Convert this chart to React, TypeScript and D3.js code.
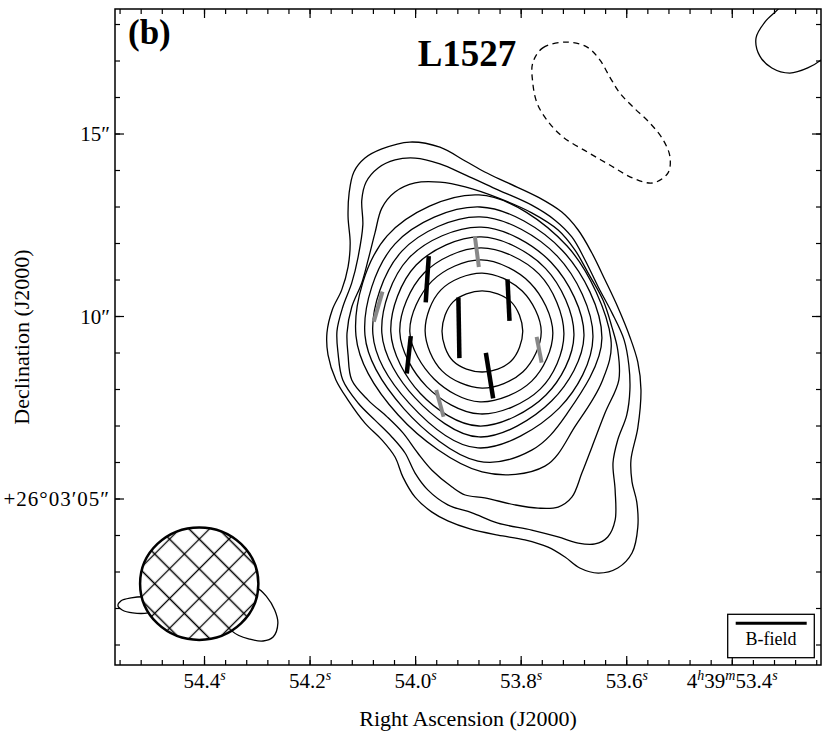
import React from "react";
import * as d3 from "d3";

const WIDTH = 831;
const HEIGHT = 742;
const PLOT = { x0: 115, x1: 821, y0: 9, y1: 665 };
const FONT = "'Liberation Serif', 'DejaVu Serif', serif";

// Axis domains: RA seconds of 4h39m, Dec arcsec past +26°03′00″
const raRange = [54.5696, 53.2319];
const decRange = [0.452, 18.425];

const raMajor = [54.4, 54.2, 54.0, 53.8, 53.6, 53.4];
const raMajorText = ["54.4", "54.2", "54.0", "53.8", "53.6", "53.4"];
const decMajor = [5, 10, 15];
const decMajorText = ["+26°03′05″", "10″", "15″"];

// Stokes I contours, outer (level 1) to inner (level 12): [RA s, Dec ″]
const level1: [number, number][] = [
  [54.168, 9.55], [54.158, 10.18], [54.14, 10.73], [54.128, 11.36], [54.124, 12.01], [54.128, 12.73],
  [54.126, 13.38], [54.117, 13.96], [54.096, 14.34], [54.064, 14.59], [54.011, 14.78], [53.954, 14.64],
  [53.906, 14.26], [53.869, 13.96], [53.825, 13.66], [53.768, 13.27], [53.723, 12.86], [53.692, 12.37],
  [53.666, 11.74], [53.641, 11.0], [53.617, 10.26], [53.594, 9.44], [53.579, 8.75], [53.573, 7.99],
  [53.579, 6.95], [53.592, 6.07], [53.59, 5.47], [53.581, 4.92], [53.579, 4.23], [53.59, 3.52],
  [53.617, 3.11], [53.654, 2.97], [53.689, 3.11], [53.717, 3.41], [53.749, 3.68], [53.793, 3.88],
  [53.844, 4.01], [53.897, 4.18], [53.939, 4.4], [53.969, 4.64], [54.001, 5.05], [54.024, 5.6],
  [54.039, 6.15], [54.064, 6.62], [54.096, 7.08], [54.128, 7.71], [54.151, 8.26], [54.166, 8.95],
];
const level2: [number, number][] = [
  [54.149, 9.6], [54.138, 10.26], [54.121, 10.92], [54.109, 11.63], [54.1, 12.51], [54.102, 13.19],
  [54.094, 13.68], [54.071, 14.07], [54.039, 14.29], [54.001, 14.34], [53.954, 14.18], [53.906, 13.88],
  [53.844, 13.47], [53.78, 13.05], [53.736, 12.64], [53.704, 12.18], [53.679, 11.55], [53.654, 10.81],
  [53.628, 10.1], [53.605, 9.36], [53.596, 8.67], [53.594, 7.99], [53.6, 7.3], [53.617, 6.62],
  [53.626, 5.99], [53.622, 5.25], [53.622, 4.42], [53.636, 3.96], [53.66, 3.77], [53.692, 3.79],
  [53.73, 3.96], [53.78, 4.15], [53.844, 4.34], [53.893, 4.62], [53.939, 4.84], [53.977, 5.25],
  [54.001, 5.71], [54.02, 6.26], [54.045, 6.7], [54.077, 7.16], [54.109, 7.63], [54.138, 8.26],
  [54.147, 9.0],
];
const level3: [number, number][] = [
  [54.13, 9.55], [54.121, 10.26], [54.102, 10.92], [54.09, 11.55], [54.077, 12.29], [54.064, 12.97],
  [54.039, 13.41], [54.001, 13.66], [53.954, 13.68], [53.906, 13.55], [53.844, 13.25], [53.78, 12.84],
  [53.73, 12.37], [53.698, 11.82], [53.673, 11.19], [53.645, 10.45], [53.628, 9.71], [53.617, 9.08],
  [53.615, 8.26], [53.641, 7.36], [53.666, 6.42], [53.685, 5.71], [53.704, 5.05], [53.73, 4.78],
  [53.768, 4.75], [53.812, 4.84], [53.869, 5.03], [53.906, 5.11], [53.931, 5.33], [53.969, 5.79],
  [53.996, 6.26], [54.024, 6.81], [54.054, 7.25], [54.09, 7.71], [54.121, 8.26], [54.128, 8.95],
];
const level4: [number, number][] = [
  [54.113, 9.47], [54.054, 12.21], [53.88, 13.33], [53.713, 11.93], [53.63, 9.38], [53.647, 8.21],
  [53.696, 7.03], [53.755, 5.9], [53.874, 5.74], [54.033, 7.3],
];
const level5: [number, number][] = [
  [54.096, 9.49], [54.039, 11.99], [53.878, 13.0], [53.722, 11.81], [53.647, 9.41], [53.715, 7.3],
  [53.78, 6.34], [53.882, 6.04], [54.022, 7.47],
];
const level6: [number, number][] = [
  [54.081, 9.52], [54.026, 11.79], [53.878, 12.73], [53.732, 11.66], [53.664, 9.44], [53.728, 7.49],
  [53.882, 6.4], [54.012, 7.62],
];
const level7: [number, number][] = [
  [54.064, 9.55], [54.013, 11.6], [53.876, 12.45], [53.743, 11.48], [53.681, 9.47], [53.742, 7.69],
  [53.88, 6.7], [54.001, 7.77],
];
const level8: [number, number][] = [
  [54.047, 9.58], [53.999, 11.41], [53.876, 12.18], [53.754, 11.32], [53.7, 9.49], [53.753, 7.85],
  [53.88, 7.0], [53.991, 7.89],
];
const level9: [number, number][] = [
  [54.03, 9.58], [53.984, 11.19], [53.876, 11.88], [53.766, 11.16], [53.719, 9.52], [53.764, 8.01],
  [53.878, 7.33], [53.979, 8.08],
];
const level10: [number, number][] = [
  [54.011, 9.58], [53.969, 10.97], [53.876, 11.55], [53.783, 10.92], [53.74, 9.55], [53.78, 8.23],
  [53.878, 7.66], [53.965, 8.29],
];
const level11: [number, number][] = [
  [53.982, 9.6], [53.952, 10.73], [53.874, 11.19], [53.798, 10.7], [53.762, 9.58], [53.797, 8.48],
  [53.874, 8.04], [53.95, 8.51],
];
const level12: [number, number][] = [
  [53.95, 9.6], [53.929, 10.4], [53.874, 10.7], [53.819, 10.4], [53.797, 9.6], [53.819, 8.78],
  [53.874, 8.48], [53.929, 8.78],
];
// isolated outer-level islands
const islandNE: [number, number][] = [
  [53.291, 18.81], [53.313, 18.42], [53.338, 18.07], [53.355, 17.63], [53.348, 17.14], [53.325, 16.81],
  [53.291, 16.67], [53.257, 16.81], [53.23, 17.05], [53.205, 17.44], [53.196, 18.12], [53.234, 18.81],
];
const islandSW1: [number, number][] = [
  [54.484, 2.23], [54.513, 2.32], [54.539, 2.29], [54.558, 2.21], [54.564, 2.07], [54.556, 1.96],
  [54.536, 1.88], [54.507, 1.88], [54.484, 2.01],
];
const islandSW2: [number, number][] = [
  [54.333, 2.51], [54.301, 2.56], [54.282, 2.32], [54.267, 1.96], [54.261, 1.6], [54.27, 1.22],
  [54.289, 1.11], [54.314, 1.16], [54.346, 1.36], [54.361, 1.82],
];
// negative contour (dashed)
const negative1: [number, number][] = [
  [53.778, 16.95], [53.759, 17.36], [53.713, 17.52], [53.675, 17.38], [53.651, 17.03], [53.632, 16.56],
  [53.613, 16.12], [53.588, 15.74], [53.556, 15.3], [53.531, 14.84], [53.518, 14.37], [53.522, 13.93],
  [53.55, 13.66], [53.588, 13.79], [53.632, 14.15], [53.675, 14.51], [53.721, 14.92], [53.751, 15.38],
  [53.77, 15.85], [53.778, 16.4],
];
const solidContours = [
  level1, level2, level3, level4, level5, level6, level7, level8, level9, level10, level11, level12,
  islandNE, islandSW1, islandSW2,
];

// B-field segments
const vecRA = [53.978, 53.918, 53.824, 54.013, 53.86, 53.884, 54.071, 53.766, 53.954];
const vecDec = [11.02, 9.69, 10.45, 8.95, 8.38, 11.78, 10.27, 9.09, 7.62];
const vecPA = [-3.5, 0.9, 2.6, -5.7, 8.5, 6.9, -15.1, 10.2, 14.3];
const vecLen = [1.27, 1.66, 1.14, 1.03, 1.26, 0.85, 0.85, 0.72, 0.76];
const vecStrong = [true, true, true, true, true, false, false, false, false];

// synthesized beam
const beamRA = 54.41;
const beamDec = 2.68;
const beamMajor = 3.08;
const beamMinor = 3.02;

const ARCSEC_PER_RA_S = 15 * Math.cos((26.05 * Math.PI) / 180);

export default function App() {
  const x = d3.scaleLinear().domain(raRange).range([PLOT.x0, PLOT.x1]);
  const y = d3.scaleLinear().domain(decRange).range([PLOT.y1, PLOT.y0]);
  const line = d3
    .line<[number, number]>()
    .x((d) => x(d[0]))
    .y((d) => y(d[1]))
    .curve(d3.curveCatmullRomClosed.alpha(0.5));

  const raMinor = d3.range(0, 34).map((i) => +(54.56 - 0.04 * i).toFixed(2));
  const decMinor = d3.range(1, 19);

  const bx = x(beamRA);
  const by = y(beamDec);
  const brx = Math.abs(x(beamRA + beamMinor / 2 / ARCSEC_PER_RA_S) - bx);
  const bry = Math.abs(y(beamDec + beamMajor / 2) - by);

  const vectors = vecRA.map((ra, i) => {
    const pa = (vecPA[i] * Math.PI) / 180;
    const h = vecLen[i] / 2;
    const dRA = (h * Math.sin(pa)) / ARCSEC_PER_RA_S;
    const dDec = h * Math.cos(pa);
    return {
      x1: x(ra + dRA),
      y1: y(vecDec[i] + dDec),
      x2: x(ra - dRA),
      y2: y(vecDec[i] - dDec),
      strong: vecStrong[i],
    };
  });

  const sup = { fontSize: 14, fontStyle: "italic" as const };

  return (
    <svg
      width={WIDTH}
      height={HEIGHT}
      viewBox={`0 0 ${WIDTH} ${HEIGHT}`}
      style={{ position: "absolute", left: 0, top: 0, background: "#fff" }}
      fontFamily={FONT}
    >
      <defs>
        <clipPath id="plotClip">
          <rect x={PLOT.x0} y={PLOT.y0} width={PLOT.x1 - PLOT.x0} height={PLOT.y1 - PLOT.y0} />
        </clipPath>
        <pattern
          id="hatch"
          patternUnits="userSpaceOnUse"
          width={21}
          height={21}
          patternTransform={`translate(${bx},${by}) rotate(45)`}
        >
          <path d="M0 10.5H21M10.5 0V21" stroke="#000" strokeWidth={1.3} fill="none" />
        </pattern>
      </defs>
      <rect x={0} y={0} width={WIDTH} height={HEIGHT} fill="#fff" />

      <g clipPath="url(#plotClip)">
        {solidContours.map((c, i) => (
          <path key={"c" + i} d={line(c) || ""} fill="none" stroke="#000" strokeWidth={1.3} />
        ))}
        <path d={line(negative1) || ""} fill="none" stroke="#000" strokeWidth={1.3} strokeDasharray="6 4.5" />

        {vectors.map((v, i) => (
          <line
            key={"v" + i}
            x1={v.x1}
            y1={v.y1}
            x2={v.x2}
            y2={v.y2}
            stroke={v.strong ? "#000" : "#888"}
            strokeWidth={v.strong ? 4.5 : 4}
          />
        ))}

        <ellipse cx={bx} cy={by} rx={brx} ry={bry} fill="#fff" />
        <ellipse cx={bx} cy={by} rx={brx} ry={bry} fill="url(#hatch)" stroke="#000" strokeWidth={2.5} />
      </g>

      {/* frame */}
      <rect
        x={PLOT.x0}
        y={PLOT.y0}
        width={PLOT.x1 - PLOT.x0}
        height={PLOT.y1 - PLOT.y0}
        fill="none"
        stroke="#000"
        strokeWidth={1.5}
      />

      {/* ticks */}
      <g stroke="#000" strokeWidth={1.2}>
        {raMinor.map((t) => (
          <g key={"rm" + t}>
            <line x1={x(t)} x2={x(t)} y1={PLOT.y1} y2={PLOT.y1 - 5} />
            <line x1={x(t)} x2={x(t)} y1={PLOT.y0} y2={PLOT.y0 + 5} />
          </g>
        ))}
        {raMajor.map((t) => (
          <g key={"rM" + t}>
            <line x1={x(t)} x2={x(t)} y1={PLOT.y1} y2={PLOT.y1 - 9} />
            <line x1={x(t)} x2={x(t)} y1={PLOT.y0} y2={PLOT.y0 + 9} />
          </g>
        ))}
        {decMinor.map((t) => (
          <g key={"dm" + t}>
            <line x1={PLOT.x0} x2={PLOT.x0 + 5} y1={y(t)} y2={y(t)} />
            <line x1={PLOT.x1} x2={PLOT.x1 - 5} y1={y(t)} y2={y(t)} />
          </g>
        ))}
        {decMajor.map((t) => (
          <g key={"dM" + t}>
            <line x1={PLOT.x0} x2={PLOT.x0 + 9} y1={y(t)} y2={y(t)} />
            <line x1={PLOT.x1} x2={PLOT.x1 - 9} y1={y(t)} y2={y(t)} />
          </g>
        ))}
      </g>

      {/* RA tick labels */}
      <g fontSize={21} textAnchor="middle" fill="#000">
        {raMajor.map((t, i) =>
          i === raMajor.length - 1 ? (
            <text key={"rl" + t} x={x(t)} y={688}>
              4<tspan {...sup} dy={-8}>h</tspan>
              <tspan dy={8}>39</tspan>
              <tspan {...sup} dy={-8}>m</tspan>
              <tspan dy={8}>{raMajorText[i]}</tspan>
              <tspan {...sup} dy={-8}>s</tspan>
            </text>
          ) : (
            <text key={"rl" + t} x={x(t)} y={688}>
              {raMajorText[i]}
              <tspan {...sup} dy={-8}>s</tspan>
            </text>
          )
        )}
      </g>

      {/* Dec tick labels */}
      <g fontSize={21} textAnchor="end" fill="#000">
        {decMajor.map((t, i) => (
          <text key={"dl" + t} x={110} y={y(t) + 7} letterSpacing={i === 0 ? 1 : 0}>
            {decMajorText[i]}
          </text>
        ))}
      </g>

      {/* axis titles */}
      <text x={468} y={726} fontSize={22} textAnchor="middle">
        Right Ascension (J2000)
      </text>
      <text transform={`translate(29,337) rotate(-90)`} fontSize={22} textAnchor="middle">
        Declination (J2000)
      </text>

      {/* panel label and title */}
      <text x={128} y={44} fontSize={35} fontWeight="bold">
        (b)
      </text>
      <text x={467} y={66} fontSize={37} fontWeight="bold" textAnchor="middle">
        L1527
      </text>

      {/* legend */}
      <rect x={727.7} y={614.3} width={86.6} height={43.4} fill="#fff" stroke="#000" strokeWidth={1.3} />
      <line x1={735.7} x2={806.7} y1={623.3} y2={623.3} stroke="#000" strokeWidth={3} />
      <text x={771} y={645} fontSize={18} textAnchor="middle">
        B-field
      </text>
    </svg>
  );
}
